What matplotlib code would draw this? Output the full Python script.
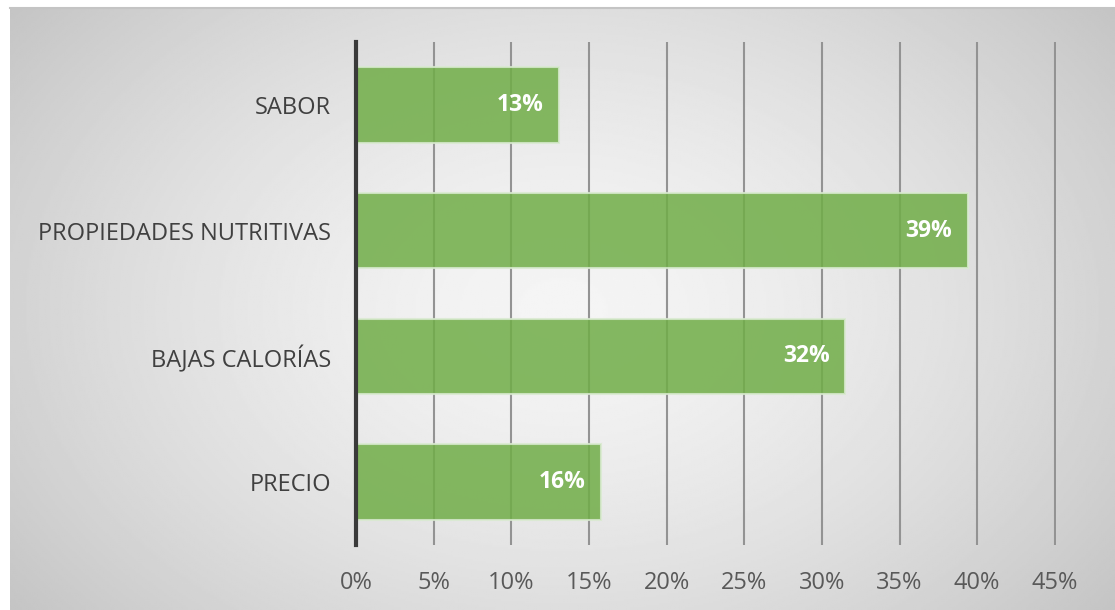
import numpy as np
import matplotlib
matplotlib.use("Agg")
from matplotlib import pyplot as plt

categories = ["SABOR", "PROPIEDADES NUTRITIVAS", "BAJAS CALORÍAS", "PRECIO"]
values = [13.1, 39.4, 31.5, 15.8]
labels = ["13%", "39%", "32%", "16%"]
xticks = [0, 5, 10, 15, 20, 25, 30, 35, 40, 45]

plt.rcParams['font.family'] = ['Open Sans', 'DejaVu Sans']

fig = plt.figure(figsize=(11.15, 6.1), dpi=100)

# background with a soft gray gradient, lighter in the middle
bg = fig.add_axes([10 / 1115, 0, 1 - 10 / 1115, 1 - 8 / 610])
yy, xx = np.mgrid[-1:1:300j, -1:1:600j]
r = np.sqrt(xx ** 2 + 0.6 * yy ** 2) / np.sqrt(1.6)
bg.imshow(0.96 - 0.19 * r ** 1.5, cmap="gray", vmin=0, vmax=1, aspect="auto",
          extent=[0, 1, 0, 1])
bg.set_axis_off()
fig.add_artist(plt.Line2D([10 / 1115, 1], [1 - 8 / 610, 1 - 8 / 610],
                          color="#c4c4c4", lw=1.5, transform=fig.transFigure))

ax = fig.add_axes([356 / 1115, 1 - 545 / 610, (1053 - 356) / 1115 + 0.003, (545 - 42) / 610])
ax.patch.set_alpha(0)

y = np.arange(len(categories))
for xv in xticks[1:]:
    ax.axvline(xv, color="#939393", lw=1.5, zorder=1)
ax.barh(y, values, height=0.6, color="#70AD47", alpha=0.85,
        edgecolor="#d9ead0", linewidth=1.5, zorder=2)
for yi, v, lab in zip(y, values, labels):
    ax.text(v - 1.0, yi, lab, ha="right", va="center", color="white",
            fontsize=16.5, fontweight="bold", zorder=3)

ax.set_ylim(3.5, -0.5)
ax.set_xlim(0, 45.1)
ax.set_yticks(y)
ax.set_yticklabels(categories, fontsize=17, color="#404040")
ax.set_xticks(xticks)
ax.set_xticklabels([f"{t}%" for t in xticks], fontsize=17, color="#595959")
ax.tick_params(axis="y", length=0, pad=18)
ax.tick_params(axis="x", length=0, pad=19)
for s in ["top", "right", "bottom"]:
    ax.spines[s].set_visible(False)
ax.spines["left"].set_color("#3a3a3a")
ax.spines["left"].set_linewidth(3)

fig.savefig("out.png", dpi=100)
